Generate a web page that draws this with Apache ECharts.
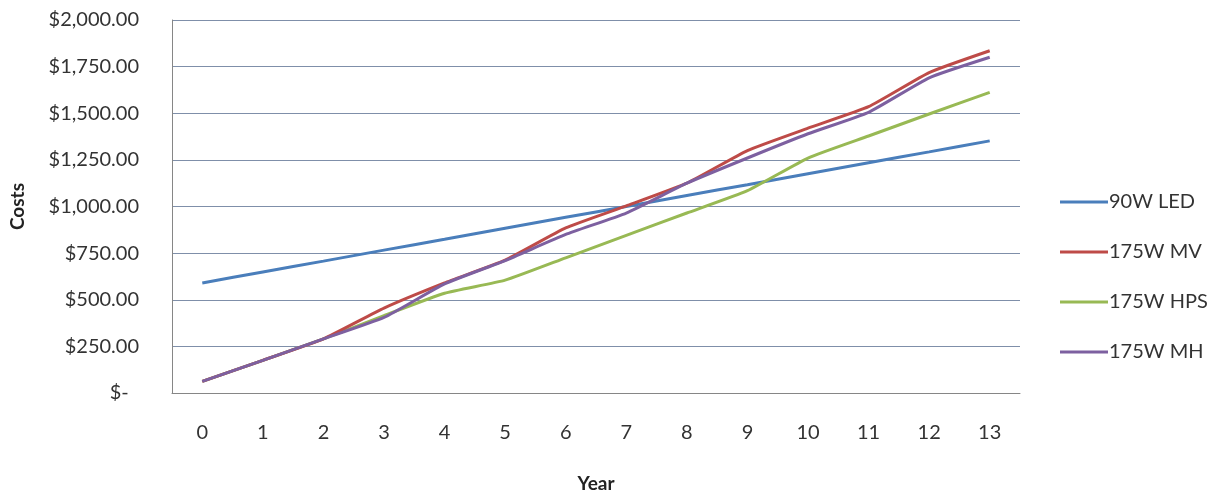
<!DOCTYPE html>
<html>
<head>
<meta charset="utf-8">
<script src="https://cdn.jsdelivr.net/npm/echarts@6/dist/echarts.min.js"></script>
<style>
  html, body { margin: 0; padding: 0; background: #ffffff; overflow: hidden; }
  #chart { width: 1216px; height: 498px; }
</style>
</head>
<body>
<div id="chart"></div>
<script>
// Cumulative cost per fixture type over the years
const years = ['0', '1', '2', '3', '4', '5', '6', '7', '8', '9', '10', '11', '12', '13'];
const led90 = [590, 649, 707, 766, 824, 883, 942, 1000, 1059, 1117, 1176, 1235, 1293, 1352];
const mv175 = [62, 175, 290, 455, 590, 712, 885, 1003, 1125, 1300, 1420, 1535, 1718, 1835];
const hps175 = [62, 175, 290, 415, 535, 605, 725, 845, 965, 1085, 1260, 1378, 1496, 1612];
const mh175 = [62, 175, 290, 405, 585, 710, 850, 965, 1125, 1260, 1390, 1505, 1690, 1800];
const yTicks = [0, 250, 500, 750, 1000, 1250, 1500, 1750, 2000];

const seriesNames = ['90W LED', '175W MV', '175W HPS', '175W MH'];
const seriesData = [led90, mv175, hps175, mh175];
const colors = ['#4a7ebb', '#be4b48', '#98b954', '#7d60a0'];

const font = 'Lato, "Open Sans", "Liberation Sans", sans-serif';

function money(v) {
  if (v === 0) return '$-  ';
  return '$' + v.toLocaleString('en-US', { minimumFractionDigits: 2, maximumFractionDigits: 2 });
}

const chart = echarts.init(document.getElementById('chart'));
chart.setOption({
  animation: false,
  color: colors,
  grid: { left: 172, right: 196, top: 20, bottom: 97, containLabel: false },
  legend: {
    orient: 'vertical',
    left: 1055,
    top: 187,
    itemWidth: 48,
    itemHeight: 16,
    itemGap: 30,
    textStyle: { fontFamily: font, fontSize: 20, color: '#333333', padding: [0, 0, 0, -4] },
    data: seriesNames.map((n, i) => ({
      name: n,
      icon: 'path://M0,6.5 L48,6.5 L48,9.5 L0,9.5 Z',
      itemStyle: { color: colors[i] }
    }))
  },
  xAxis: {
    type: 'category',
    data: years,
    boundaryGap: true,
    name: 'Year',
    nameLocation: 'middle',
    nameGap: 81,
    nameTextStyle: { fontFamily: font, fontSize: 19, fontWeight: 'bold', color: '#222222' },
    axisLine: { show: true, lineStyle: { color: '#868686', width: 1 } },
    axisTick: { show: false },
    axisLabel: { fontFamily: font, fontSize: 20, color: '#333333', margin: 30 },
    splitLine: { show: false }
  },
  yAxis: {
    type: 'value',
    min: yTicks[0],
    max: yTicks[yTicks.length - 1],
    interval: 250,
    name: 'Costs',
    nameLocation: 'middle',
    nameGap: 145,
    nameRotate: 90,
    nameTextStyle: { fontFamily: font, fontSize: 19, fontWeight: 'bold', color: '#222222' },
    axisLine: { show: true, lineStyle: { color: '#868686', width: 1 } },
    axisTick: { show: false },
    axisLabel: { fontFamily: font, fontSize: 20, color: '#333333', margin: 33, formatter: money },
    splitLine: { show: true, lineStyle: { color: '#7f8fa9', width: 1 } }
  },
  series: seriesNames.map((n, i) => ({
    name: n,
    type: 'line',
    data: seriesData[i],
    symbol: 'none',
    smooth: 0.15,
    lineStyle: { width: 3, color: colors[i] },
    z: i === 1 ? 3 : (i === 3 ? 4 : 2)
  }))
});
</script>
</body>
</html>
